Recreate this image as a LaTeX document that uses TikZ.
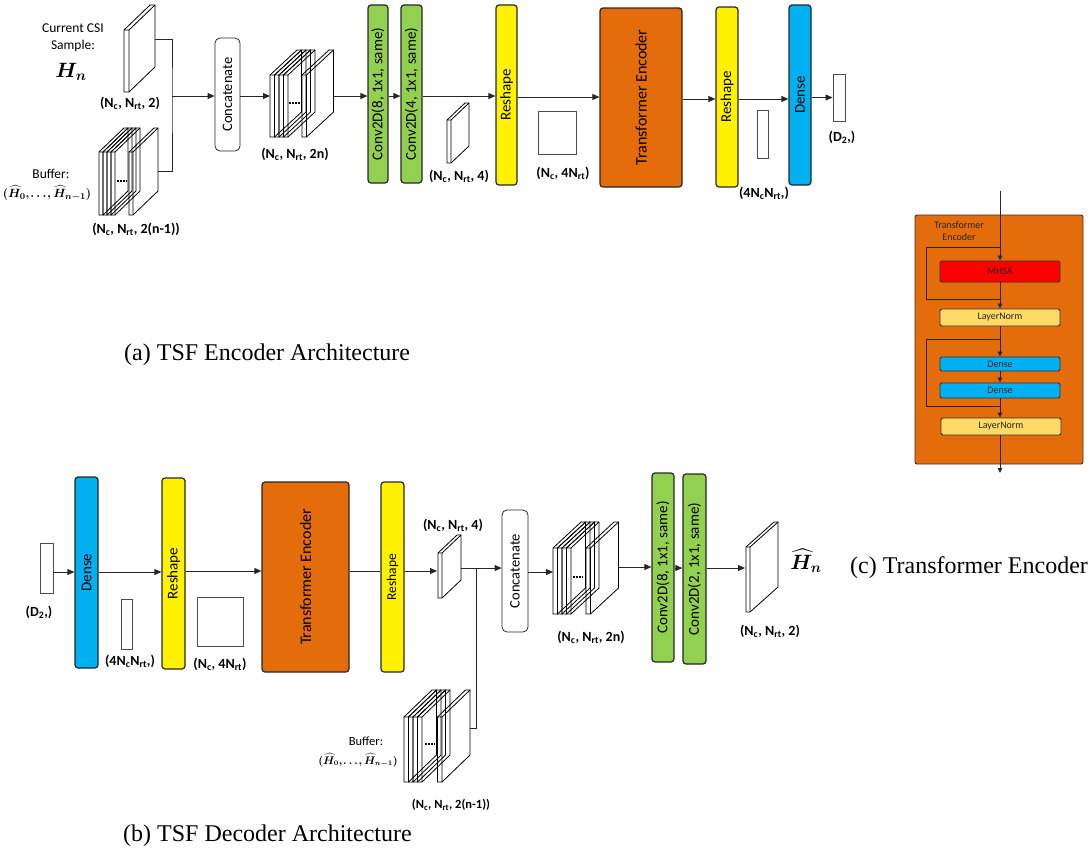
\documentclass[tikz,border=0pt]{standalone}
\usepackage{fontspec}
\usepackage{amsmath,bm}
\setmainfont{Carlito}
\newfontfamily\capfont{Liberation Serif}
\usetikzlibrary{arrows.meta}
\definecolor{convgreen}{HTML}{92D050}
\definecolor{denseblue}{HTML}{00B0F0}
\definecolor{teorange}{HTML}{E46C0A}
\definecolor{lnyellow}{HTML}{FFD966}
\definecolor{mhsared}{HTML}{FF0000}
\newcommand\sbs[1]{\textsubscript{#1}}
\newcommand\buftuple{{\boldmath$(\widehat{H}_0,\mkern-2mu\ldots\mkern-2mu,\widehat{H}_{n-1})$}}
% slab: [opts] x ybottom w h dx dy
\newcommand\slab[7][]{%
  \path[slabline,#1] (#2,#3) -- ++(#4,0) -- ++(#6,-#7) -- ++(0,-#5) -- ++(-#4,0) -- ++(-#6,#7) -- cycle;
  \draw[slabline] (#2,#3-#5) -- ++(#4,0) -- ++(0,#5) ++(0,-#5) -- ++(#6,-#7);}
\begin{document}
\begin{tikzpicture}[x=1pt,y=-1pt,
  box/.style={draw=black!85, line width=1.2pt, rounded corners=3pt, inner sep=0pt, font=\fontsize{15}{17}\selectfont},
  conv/.style={box, fill=convgreen},
  resh/.style={box, fill=yellow},
  dense/.style={box, fill=denseblue},
  te/.style={box, fill=teorange, font=\fontsize{16}{18}\selectfont},
  cat/.style={box, fill=white, line width=0.8pt, rounded corners=5pt, font=\fontsize{14.5}{16}\selectfont},
  vec/.style={draw=black!70, line width=0.9pt, fill=white, inner sep=0pt},
  lab/.style={font=\fontsize{14}{16}\selectfont\bfseries, inner sep=0pt},
  txt/.style={font=\fontsize{13.5}{16}\selectfont, inner sep=0pt, align=center},
  slabline/.style={draw=black, line width=0.8pt},
  dots/.style={line width=2pt, dash pattern=on 1.6pt off 1.4pt},
  arr/.style={-{Triangle[length=7pt,width=6pt]}, line width=0.8pt, draw=black!85},
  ln/.style={line width=0.8pt, draw=black!85},
  cbox/.style={draw=black!80, line width=0.9pt, rounded corners=2pt, inner sep=0pt, minimum width=120pt, font=\fontsize{10}{12}\selectfont, text=black!85},
  carr/.style={-{Triangle[length=5pt,width=4.5pt]}, line width=0.8pt, draw=black!85},
  captext/.style={font=\capfont\fontsize{24}{28}\selectfont, anchor=base west, inner sep=0pt}
]
\useasboundingbox (0,0) rectangle (1089,855);

%================ (a) encoder =================
\node[txt] (csi) at (73,38) {Current CSI\\[1pt]Sample:};
\node[inner sep=0pt, font=\fontsize{21}{21}\selectfont] (hn) at (71,72) {$\bm{H_n}$};
\slab[fill=white]{124}{92}{5}{62}{26}{25}
\coordinate (hnout) at (155,39);
\node[lab] (lhn) at (130,103) {(N\sbs{c}, N\sbs{rt}, 2)};

\foreach \i in {0,...,3}{\slab{99+4*\i}{215}{4}{63}{25}{24}}
\slab{129}{215}{4}{63}{25}{24}
\draw[dots] (117,181) -- (127,181);
\coordinate (bufout) at (158,171);
\node[txt] (bufA) at (51,174) {Buffer:};
\node[inner sep=0pt, font=\fontsize{13}{15}\selectfont] (tupA) at (47,193) {\buftuple};
\node[lab] (lbufA) at (136,229) {(N\sbs{c}, N\sbs{rt}, 2(n-1))};

\coordinate (jA) at (172,96);
\draw[ln] (hnout) -| (jA) |- (bufout);
\node[cat, minimum width=25pt, minimum height=113pt] (catA) at (227.5,94.5) {\rotatebox{90}{Concatenate}};
\draw[arr] (jA) -- (jA -| catA.west);

\foreach \i in {0,...,3}{\slab{270+4.5*\i}{137}{4.5}{62}{27}{25}}
\slab{302}{137}{4.5}{62}{27}{25}
\draw[dots] (289,103) -- (300,103);
\coordinate (stkAin) at (270,96);
\coordinate (stkAout) at (333.5,96);
\node[lab] (lstkA) at (295,154) {(N\sbs{c}, N\sbs{rt}, 2n)};
\draw[arr] (catA.east |- stkAin) -- (stkAin);

\node[conv, minimum width=20pt, minimum height=178pt] (c1A) at (378,94) {\rotatebox{90}{Conv2D(8, 1x1, same)}};
\node[conv, minimum width=21pt, minimum height=178pt] (c2A) at (411.5,94) {\rotatebox{90}{Conv2D(4, 1x1, same)}};
\draw[arr] (stkAout) -- (stkAout -| c1A.west);
\draw[arr] (c1A.east |- stkAout) -- (stkAout -| c2A.west);

\slab[fill=white]{447}{163}{4}{43}{18}{17}
\node[lab] (l4A) at (459,176) {(N\sbs{c}, N\sbs{rt}, 4)};

\node[resh, minimum width=21pt, minimum height=180pt] (r1A) at (506.5,95) {\rotatebox{90}{Reshape}};
\draw[arr] (c2A.east |- stkAout) -- (stkAout -| r1A.west);

\node[vec, minimum width=38pt, minimum height=43pt] (sqA) at (557,132.5) {};
\node[lab] (lsqA) at (563,173) {(N\sbs{c}, 4N\sbs{rt})};

\node[te, minimum width=82pt, minimum height=179pt] (teA) at (641,97.5) {\rotatebox{90}{Transformer Encoder}};
\coordinate (rowA2) at (0,97);
\draw[arr] (r1A.east |- rowA2) -- (teA.west |- rowA2);

\node[resh, minimum width=22pt, minimum height=180pt] (r2A) at (727,97) {\rotatebox{90}{Reshape}};
\node[dense, minimum width=22pt, minimum height=180pt] (dA) at (800,95) {\rotatebox{90}{Dense}};
\coordinate (rowA3) at (0,99);
\draw[arr] (teA.east |- rowA3) -- (r2A.west |- rowA3);
\draw[arr] (r2A.east |- rowA3) -- (dA.west |- rowA3);

\node[vec, minimum width=11pt, minimum height=48pt] (vA) at (762.5,134) {};
\node[lab] (lvA) at (764,193) {(4N\sbs{c}N\sbs{rt},)};

\node[vec, minimum width=12pt, minimum height=47pt] (d2A) at (839,97.5) {};
\node[lab] (ld2A) at (842,137) {(D\sbs{2},)};
\draw[arr] (dA.east |- d2A.west) -- (d2A.west);

\node[captext] (capA) at (124,360) {(a) TSF Encoder Architecture};

%================ (c) transformer encoder =================
\node[draw=black!80, fill=teorange, line width=0.9pt, rounded corners=2pt, minimum width=168pt, minimum height=249pt] (outer) at (999,339.5) {};
\node[font=\fontsize{10}{12}\selectfont, text=black!85, align=center, inner sep=0pt] (ttl) at (959,231) {Transformer\\Encoder};
\node[cbox, fill=mhsared, minimum height=21pt] (mhsa) at (1000,271.5) {MHSA};
\node[cbox, fill=lnyellow, minimum height=17pt] (ln1) at (1000,317.5) {LayerNorm};
\node[cbox, fill=denseblue, minimum height=14pt] (dd1) at (1000,364) {Dense};
\node[cbox, fill=denseblue, minimum height=15pt] (dd2) at (1000,390.5) {Dense};
\node[cbox, fill=lnyellow, minimum height=17pt] (ln2) at (1001,426.5) {LayerNorm};
\coordinate (cin) at (1000,191);
\coordinate (cout) at (1000,473);
\coordinate (s1t) at (1000,247);
\coordinate (s1x) at (926,270);
\coordinate (s1b) at (1000,299);
\coordinate (s2t) at (1000,339);
\coordinate (s2x) at (926,370);
\coordinate (s2b) at (1000,406);
\draw[carr] (cin) -- (mhsa.north);
\draw[ln] (s1t) -| (s1x) |- (s1b);
\draw[carr] (mhsa.south) -- (ln1.north);
\draw[carr] (ln1.south) -- (dd1.north);
\draw[ln] (s2t) -| (s2x) |- (s2b);
\draw[carr] (dd1.south) -- (dd2.north);
\draw[carr] (dd2.south) -- (dd2.south |- ln2.north);
\draw[carr] (ln2.south -| cout) -- (cout);

\node[captext] (capC) at (850,573) {(c) Transformer Encoder};

%================ (b) decoder =================
\node[vec, minimum width=13pt, minimum height=50pt] (d2B) at (46.5,568) {};
\node[lab] (ld2B) at (39,612) {(D\sbs{2},)};
\node[dense, minimum width=23pt, minimum height=191pt] (dB) at (86.5,572.5) {\rotatebox{90}{Dense}};
\coordinate (rowB1) at (0,572);
\draw[arr] (d2B.east |- rowB1) -- (dB.west |- rowB1);

\node[resh, minimum width=23pt, minimum height=191pt] (r1B) at (173.5,573.5) {\rotatebox{90}{Reshape}};
\draw[arr] (dB.east |- rowB1) -- (r1B.west |- rowB1);
\node[vec, minimum width=11pt, minimum height=50pt] (vB) at (126.5,624) {};
\node[lab] (lvB) at (130,661) {(4N\sbs{c}N\sbs{rt},)};

\node[te, minimum width=87pt, minimum height=190pt] (teB) at (305.5,577) {\rotatebox{90}{Transformer Encoder}};
\coordinate (rowB2) at (0,571);
\draw[arr] (r1B.east |- rowB2) -- (teB.west |- rowB2);
\node[vec, minimum width=46pt, minimum height=49pt] (sqB) at (220,621.5) {};
\node[lab] (lsqB) at (220,664) {(N\sbs{c}, 4N\sbs{rt})};

\node[resh, minimum width=23pt, minimum height=190pt, font=\fontsize{13.5}{15}\selectfont] (r2B) at (392.5,577) {\rotatebox{90}{Reshape}};
\draw[ln] (teB.east |- rowB2) -- (r2B.west |- rowB2);

\slab[fill=white]{438}{598}{4}{45}{19}{18}
\coordinate (s4Bin) at (437,571);
\coordinate (s4Bout) at (461,568);
\node[lab] (l4B) at (453,525) {(N\sbs{c}, N\sbs{rt}, 4)};
\draw[arr] (r2B.east |- s4Bin) -- (s4Bin);

\node[cat, minimum width=26pt, minimum height=122pt] (catB) at (515,571) {\rotatebox{90}{Concatenate}};
\coordinate (jB) at (476,568);
\draw[arr] (s4Bout) -- (s4Bout -| catB.west);

\foreach \i in {0,...,3}{\slab{404+4.5*\i}{782}{4.5}{65}{28}{27}}
\slab{437.5}{782}{4.5}{65}{28}{27}
\draw[dots] (425,744) -- (435,744);
\coordinate (bufBout) at (470,728);
\draw[ln] (jB) |- (bufBout);
\node[font=\fontsize{12.5}{14}\selectfont, inner sep=0pt] (bufB) at (366,741) {Buffer:};
\node[inner sep=0pt, font=\fontsize{10.5}{12}\selectfont] (tupB) at (358,760) {\buftuple};
\node[lab, font=\fontsize{12.5}{14}\selectfont\bfseries] (lbufB) at (451,805) {(N\sbs{c}, N\sbs{rt}, 2(n-1))};

\foreach \i in {0,...,3}{\slab{553+4.5*\i}{614}{4.5}{66}{28}{26}}
\slab{586}{614}{4.5}{66}{28}{26}
\draw[dots] (573,577) -- (583,577);
\coordinate (stkBin) at (553,572);
\coordinate (stkBout) at (618.5,567);
\node[lab] (lstkB) at (591,637) {(N\sbs{c}, N\sbs{rt}, 2n)};
\draw[arr] (catB.east |- stkBin) -- (stkBin);

\node[conv, minimum width=22pt, minimum height=189pt] (c1B) at (663,567.5) {\rotatebox{90}{Conv2D(8, 1x1, same)}};
\node[conv, minimum width=23pt, minimum height=190pt] (c2B) at (694.5,569) {\rotatebox{90}{Conv2D(2, 1x1, same)}};
\draw[arr] (stkBout) -- (stkBout -| c1B.west);
\coordinate (rowB3) at (0,568);
\draw[arr] (c1B.east |- rowB3) -- (c2B.west |- rowB3);

\slab[fill=white]{746}{612}{4}{65}{28}{25}
\coordinate (hatin) at (745,568);
\draw[arr] (c2B.east |- hatin) -- (hatin);
\node[inner sep=0pt, font=\fontsize{20}{20}\selectfont] (hatn) at (806,561) {$\bm{\widehat{H}_n}$};
\node[lab] (lhat) at (770,631) {(N\sbs{c}, N\sbs{rt}, 2)};

\node[captext] (capB) at (123,841) {(b) TSF Decoder Architecture};
\end{tikzpicture}
\end{document}
